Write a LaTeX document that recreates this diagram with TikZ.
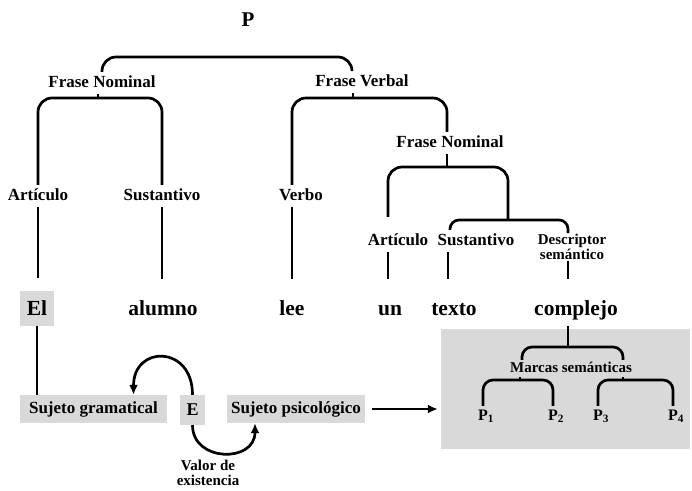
\documentclass[tikz,border=0pt]{standalone}
\usepackage{fontspec}
\setmainfont{Liberation Serif}
\usetikzlibrary{arrows.meta}

\begin{document}
\begin{tikzpicture}[x=1pt,y=-1pt,
  ln/.style={line width=2.7pt},
  br/.style={ln, rounded corners=14pt},
  arr/.style={line width=2.7pt, -{Latex[length=10pt,width=9pt]}},
  lbl/.style={font=\fontsize{17}{18}\selectfont\bfseries, text height=12pt, text depth=4pt,
              inner xsep=1pt, inner ysep=3pt, anchor=base},
  word/.style={font=\fontsize{21.5}{22}\selectfont\bfseries, text height=14pt, text depth=5pt,
               inner sep=0pt, anchor=base},
  small/.style={font=\fontsize{15}{15}\selectfont\bfseries, align=center, inner sep=1pt},
  shade/.style={fill=gray!30, inner sep=0pt},
  plbl/.style={font=\fontsize{16}{17}\selectfont\bfseries, text height=11pt, text depth=5pt,
               inner xsep=0pt, inner ysep=3pt, anchor=base},
]
\useasboundingbox (0,0) rectangle (692,490);

% shaded panel for the semantic marks
\node[shade, minimum width=249pt, minimum height=120pt] (mbox) at (565.5,389) {};

% sentence tree labels
\node[font=\fontsize{21}{22}\selectfont\bfseries] (P) at (248,20) {P};
\node[lbl] (fn1) at (102,87) {Frase Nominal};
\node[lbl] (fv) at (362,86) {Frase Verbal};
\node[lbl] (fn2) at (450,147) {Frase Nominal};
\node[lbl] (art1) at (38,200) {Artículo};
\node[lbl] (sus1) at (162,200) {Sustantivo};
\node[lbl] (verbo) at (301,200) {Verbo};
\node[lbl] (art2) at (398,245) {Artículo};
\node[lbl] (sus2) at (476,245) {Sustantivo};
\node[small] (desc) at (572,247) {Descriptor\\semántico};

% words of the sentence
\node[shade, minimum width=34pt, minimum height=35pt,
      font=\fontsize{21.5}{22}\selectfont\bfseries, text height=14pt, text depth=0pt] (el) at (37,308) {El};
\node[word] (alumno) at (163,315) {alumno};
\node[word] (lee) at (292,315) {lee};
\node[word] (un) at (390,315) {un};
\node[word] (texto) at (454,315) {texto};
\node[word] (complejo) at (576,315) {complejo};

% semantic marks
\node[font=\fontsize{15}{16}\selectfont\bfseries, text height=10pt, text depth=3pt,
      inner xsep=0pt, inner ysep=2pt, anchor=base] (ms) at (571,372) {Marcas semánticas};
\node[plbl] (p1) at (486,420) {P\textsubscript{1}};
\node[plbl] (p2) at (556,420) {P\textsubscript{2}};
\node[plbl] (p3) at (601,420) {P\textsubscript{3}};
\node[plbl] (p4) at (676,420) {P\textsubscript{4}};

% bottom row
\node[shade, minimum width=147pt, minimum height=28pt,
      font=\fontsize{17}{18}\selectfont\bfseries] (sg) at (93.5,409) {Sujeto gramatical};
\node[shade, minimum width=25pt, minimum height=30pt,
      font=\fontsize{18}{18}\selectfont\bfseries] (E) at (192.5,410) {E};
\node[shade, minimum width=138pt, minimum height=28pt,
      font=\fontsize{17}{18}\selectfont\bfseries] (sp) at (296,409) {Sujeto psicológico};
\node[small] (valor) at (208,473) {Valor de\\existencia};

% bracket junctions
\coordinate (top) at (227,57);
\coordinate (fn1b) at (98,98);
\coordinate (fvb) at (353,98);
\coordinate (fn2b) at (447,167);
\coordinate (sb) at (508,220);
\coordinate (mt) at (568,347);
\coordinate (lb1) at (520,380);
\coordinate (lb2) at (623,380);

% tree brackets
\draw[br] (fn1.north) |- (top) -| ([xshift=-10pt]fv.north);
\draw[br] (art1.north) |- (fn1b) -| (sus1.north);
\draw[ln] (fn1b) -- (fn1b |- fn1.south);
\draw[br] ([xshift=-9pt]verbo.north) |- (fvb) -| ([xshift=-3pt]fn2.north);
\draw[ln] (fvb) -- (fvb |- fv.south);
\draw[br, shorten <=13pt] ([xshift=-10pt]art2.north) |- (fn2b) -| (sb);
\draw[ln] (fn2b) -- (fn2b |- fn2.south);
\draw[ln, rounded corners=9pt] ([xshift=-26pt]sus2.north) |- (sb) -| ([xshift=-4pt]desc.north);

% category to word links
\draw[ln, shorten >=12pt] (art1.south) -- (art1.south |- el.north);
\draw[ln, shorten >=22pt] (sus1.south) -- (sus1.south |- alumno.north);
\draw[ln, shorten >=22pt] ([xshift=-9pt]verbo.south) -- (lee.north);
\draw[ln, shorten >=22pt] ([xshift=-10pt]art2.south) -- ([xshift=-10pt]art2.south |- un.north);
\draw[ln, shorten >=22pt] ([xshift=-28pt]sus2.south) -- ([xshift=-28pt]sus2.south |- texto.north);
\draw[ln, shorten >=22pt] ([xshift=-4pt]desc.south) -- ([xshift=-4pt]desc.south |- complejo.north);
\draw[ln] (el.south) -- (el.south |- sg.north);

% semantic marks brackets
\draw[ln, shorten <=6pt] (complejo.south -| mt) -- (mt);
\draw[ln, rounded corners=10pt] ([xshift=-49pt]ms.north) |- (mt) -| ([xshift=52pt]ms.north);
\draw[ln] (lb1) -- (lb1 |- ms.south);
\draw[ln] (lb2) -- (lb2 |- ms.south);
\draw[ln, rounded corners=10pt] ([xshift=-3pt]p1.north) |- (lb1) -| ([xshift=-3pt]p2.north);
\draw[ln, rounded corners=10pt] ([xshift=-3pt]p3.north) |- (lb2) -| ([xshift=-3pt]p4.north);

% existence value arrows
\draw[arr] (E.north) .. controls +(0,-50) and +(0,-50) .. ([xshift=40pt]sg.north);
\draw[arr] (E.south) .. controls +(0,37) and +(0,40) .. ([xshift=-41pt]sp.south);
\draw[arr, shorten <=7pt, shorten >=3pt] (sp.east) -- (sp.east -| mbox.west);
\end{tikzpicture}
\end{document}
